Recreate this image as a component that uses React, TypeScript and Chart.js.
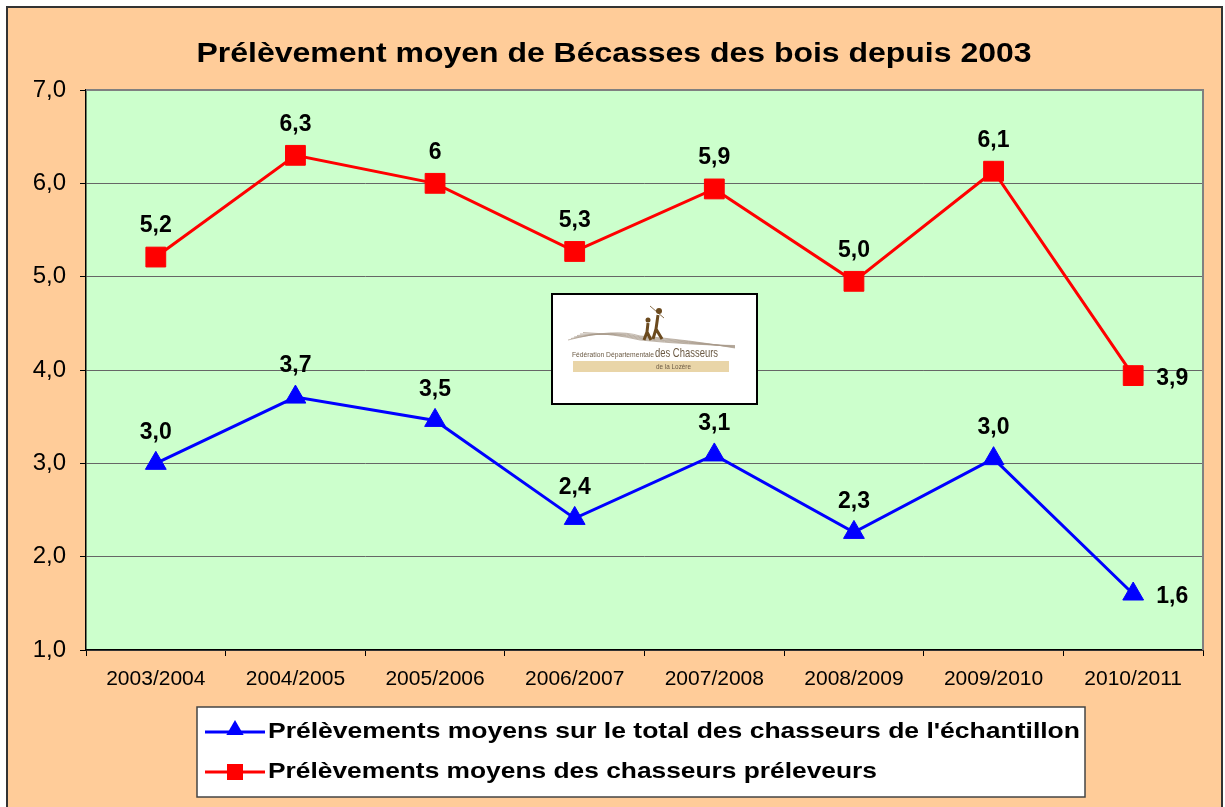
import React, { useEffect, useRef } from "react";
import { Chart, registerables } from "chart.js";

Chart.register(...registerables);

const chartTitle = "Prélèvement moyen de Bécasses des bois depuis 2003";
const categories = ["2003/2004", "2004/2005", "2005/2006", "2006/2007", "2007/2008", "2008/2009", "2009/2010", "2010/2011"];
const seriesNames = [
  "Prélèvements moyens sur le total des chasseurs de l'échantillon",
  "Prélèvements moyens des chasseurs préleveurs",
];
const totalValues = [3.0, 3.71, 3.46, 2.41, 3.09, 2.26, 3.05, 1.6];
const totalLabels = ["3,0", "3,7", "3,5", "2,4", "3,1", "2,3", "3,0", "1,6"];
const preleveurValues = [5.21, 6.3, 6.0, 5.27, 5.94, 4.95, 6.13, 3.94];
const preleveurLabels = ["5,2", "6,3", "6", "5,3", "5,9", "5,0", "6,1", "3,9"];
const yMin = 1;
const yMax = 7;
const logoLines = ["Fédération Départementale", "des Chasseurs", "de la Lozère"];

const FONT = "'Liberation Sans', Arial, sans-serif";

function fitText(ctx: CanvasRenderingContext2D, text: string, x: number, y: number, targetWidth: number, align: "left" | "center") {
  const w = ctx.measureText(text).width;
  const sx = targetWidth / w;
  ctx.save();
  ctx.translate(x, y);
  ctx.scale(sx, 1);
  ctx.textAlign = align;
  ctx.fillText(text, 0, 0);
  ctx.restore();
}

function drawMarker(ctx: CanvasRenderingContext2D, style: string, x: number, y: number, color: string) {
  ctx.fillStyle = color;
  ctx.beginPath();
  if (style === "triangle") {
    const r = 10;
    ctx.moveTo(x, y - r);
    ctx.lineTo(x + r * 0.866, y + r * 0.5);
    ctx.lineTo(x - r * 0.866, y + r * 0.5);
    ctx.closePath();
  } else {
    ctx.rect(x - 8, y - 8, 16, 16);
  }
  ctx.fill();
}

const decorPlugin = {
  id: "decor",
  beforeDraw(chart: any) {
    const { ctx, chartArea: a } = chart;
    ctx.save();
    ctx.fillStyle = "#ffffff";
    ctx.fillRect(0, 0, chart.width, chart.height);
    ctx.fillStyle = "#FFCC99";
    ctx.fillRect(7, 7, 1215, 810);
    ctx.strokeStyle = "#333333";
    ctx.lineWidth = 2;
    ctx.strokeRect(7, 7, 1215, 810);
    ctx.fillStyle = "#CCFFCC";
    ctx.fillRect(a.left, a.top, a.right - a.left, a.bottom - a.top);
    ctx.fillStyle = "#000";
    ctx.font = `bold 28px ${FONT}`;
    ctx.textBaseline = "middle";
    fitText(ctx, chartTitle, 614, 54, 835, "center");
    ctx.restore();
  },
  beforeDatasetsDraw(chart: any) {
    const { ctx, chartArea: a } = chart;
    ctx.save();
    ctx.strokeStyle = "#808080";
    ctx.lineWidth = 2;
    ctx.beginPath();
    ctx.moveTo(a.left, a.top);
    ctx.lineTo(a.right, a.top);
    ctx.lineTo(a.right, a.bottom);
    ctx.stroke();

    // logo box
    const bx = 552, by = 294, bw = 205, bh = 110;
    ctx.fillStyle = "#ffffff";
    ctx.fillRect(bx, by, bw, bh);
    ctx.strokeStyle = "#000";
    ctx.lineWidth = 2;
    ctx.strokeRect(bx, by, bw, bh);
    ctx.strokeStyle = "#a89a8a";
    ctx.lineWidth = 0.7;
    for (let i = 0; i < 6; i++) {
      ctx.beginPath();
      ctx.moveTo(568 + i * 3, 340 - i * 1.5);
      ctx.quadraticCurveTo(615, 328 + i * 1.2, 640, 336 + i * 0.8);
      ctx.quadraticCurveTo(690, 340 + i, 735, 348 - i * 0.5);
      ctx.stroke();
    }
    ctx.fillStyle = "#6b4a1e";
    ctx.strokeStyle = "#6b4a1e";
    ctx.lineWidth = 3;
    ctx.beginPath(); ctx.arc(659, 311, 3, 0, Math.PI * 2); ctx.fill();
    ctx.beginPath(); ctx.moveTo(658, 315); ctx.lineTo(656, 329); ctx.lineTo(653, 339); ctx.moveTo(656, 329); ctx.lineTo(662, 339); ctx.stroke();
    ctx.beginPath(); ctx.arc(648, 320, 2.5, 0, Math.PI * 2); ctx.fill();
    ctx.beginPath(); ctx.moveTo(648, 323); ctx.lineTo(647, 332); ctx.lineTo(644, 340); ctx.moveTo(647, 332); ctx.lineTo(651, 340); ctx.stroke();
    ctx.lineWidth = 0.8;
    ctx.beginPath(); ctx.moveTo(650, 306); ctx.lineTo(664, 318); ctx.stroke();
    ctx.fillStyle = "#E9D5A8";
    ctx.fillRect(573, 361, 156, 11);
    ctx.fillStyle = "#6b5a44";
    ctx.textBaseline = "alphabetic";
    ctx.textAlign = "left";
    ctx.font = `8px ${FONT}`;
    fitText(ctx, logoLines[0], 572, 357, 82, "left");
    ctx.font = `13px ${FONT}`;
    fitText(ctx, logoLines[1], 655, 357, 63, "left");
    ctx.font = `7px ${FONT}`;
    fitText(ctx, logoLines[2], 656, 369, 35, "left");
    ctx.restore();
  },
  afterDatasetsDraw(chart: any) {
    const { ctx } = chart;
    const labelSets = [totalLabels, preleveurLabels];
    ctx.save();
    ctx.fillStyle = "#000";
    ctx.font = `bold 23px ${FONT}`;
    ctx.textAlign = "center";
    ctx.textBaseline = "middle";
    chart.data.datasets.forEach((ds: any, di: number) => {
      const meta = chart.getDatasetMeta(di);
      meta.data.forEach((pt: any, i: number) => {
        const txt = labelSets[di][i];
        if (i === meta.data.length - 1) {
          ctx.fillText(txt, pt.x + 39, pt.y + 3);
        } else {
          ctx.fillText(txt, pt.x, pt.y - 31);
        }
      });
    });

    // legend
    const lx = 197, ly = 707, lw = 888, lh = 90;
    ctx.fillStyle = "#ffffff";
    ctx.fillRect(lx, ly, lw, lh);
    ctx.strokeStyle = "#444";
    ctx.lineWidth = 1.5;
    ctx.strokeRect(lx, ly, lw, lh);
    const rows = [732, 772];
    const widths = [812, 609];
    chart.data.datasets.forEach((ds: any, di: number) => {
      const y = rows[di];
      ctx.strokeStyle = ds.borderColor;
      ctx.lineWidth = 3;
      ctx.beginPath();
      ctx.moveTo(205, y);
      ctx.lineTo(265, y);
      ctx.stroke();
      drawMarker(ctx, ds.pointStyle, 235, di === 0 ? y - 2 : y, ds.pointBackgroundColor);
      ctx.fillStyle = "#000";
      ctx.font = `bold 22px ${FONT}`;
      ctx.textBaseline = "middle";
      fitText(ctx, ds.label, 268, y, widths[di], "left");
    });
    ctx.restore();
  },
};

export default function App() {
  const ref = useRef<HTMLCanvasElement | null>(null);
  useEffect(() => {
    if (!ref.current) return;
    const chart = new Chart(ref.current, {
      type: "line",
      data: {
        labels: categories,
        datasets: [
          {
            label: seriesNames[0],
            data: totalValues,
            borderColor: "#0000FF",
            backgroundColor: "#0000FF",
            borderWidth: 3,
            pointStyle: "triangle",
            pointRadius: 12,
            pointHoverRadius: 12,
            pointBackgroundColor: "#0000FF",
            pointBorderColor: "#0000FF",
            pointBorderWidth: 1,
            tension: 0,
          },
          {
            label: seriesNames[1],
            data: preleveurValues,
            borderColor: "#FF0000",
            backgroundColor: "#FF0000",
            borderWidth: 3,
            pointStyle: "rect",
            pointRadius: 14,
            pointHoverRadius: 14,
            pointBackgroundColor: "#FF0000",
            pointBorderColor: "#FF0000",
            pointBorderWidth: 1,
            tension: 0,
          },
        ],
      },
      options: {
        responsive: false,
        animation: false,
        events: [],
        layout: { padding: { left: 0, top: 90, right: 22, bottom: 0 } },
        plugins: {
          legend: { display: false },
          title: { display: false },
          tooltip: { enabled: false },
        },
        scales: {
          x: {
            type: "category",
            offset: true,
            grid: { display: true, drawOnChartArea: false, drawTicks: true, tickLength: 6, color: "#000", offset: true },
            border: { display: true, color: "#000", width: 1.5 },
            ticks: { color: "#000", font: { family: FONT, size: 21 }, padding: 11, maxRotation: 0, autoSkip: false },
            afterFit: (s: any) => { s.height = 157; },
          },
          y: {
            min: yMin,
            max: yMax,
            grid: { color: "#666666", lineWidth: 1, tickLength: 6, tickColor: "#000" },
            border: { display: true, color: "#000", width: 1.5 },
            ticks: {
              stepSize: 1,
              color: "#000",
              font: { family: FONT, size: 24 },
              padding: 14,
              callback: (v: any) => Number(v).toFixed(1).replace(".", ","),
            },
            afterFit: (s: any) => { s.width = 86; },
          },
        },
      },
      plugins: [decorPlugin],
    });
    return () => chart.destroy();
  }, []);
  return (
    <div style={{ position: "fixed", left: 0, top: 0, width: 1225, height: 807, overflow: "hidden" }}>
      <canvas ref={ref} width={1225} height={807} style={{ display: "block", width: 1225, height: 807 }} />
    </div>
  );
}
